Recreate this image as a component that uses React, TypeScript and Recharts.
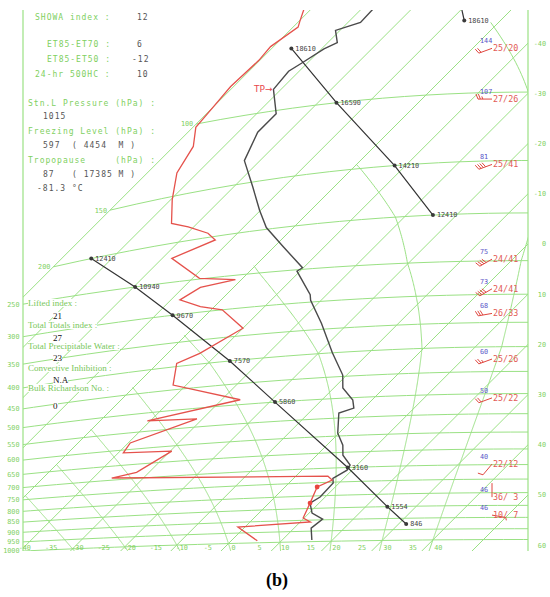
import React from 'react';
import { ComposedChart, Line, Scatter, XAxis, YAxis } from 'recharts';

// ---------------- sounding data ----------------
// temperature profile (hPa, degC)
const tempPressure = [992, 936, 897, 870, 828, 805, 753, 736, 709, 692, 659, 628, 592, 537, 526, 506, 476, 447, 400, 339, 297, 288, 252, 248, 221, 198, 178, 154, 131, 112, 102, 88, 80, 77, 72, 70, 65, 63, 58];
const tempValues = [15.9, 13.4, 13.9, 10.6, 8.2, 9.0, 8.8, 7.8, 9.0, 8.6, 5.2, 3.2, -0.2, -4.0, -2.0, -3.8, -8.2, -10.8, -17.3, -25.3, -32.1, -33.3, -40.6, -40.2, -48.2, -55.4, -60.2, -66.3, -73.1, -76.1, -76.1, -81.5, -82.1, -81.1, -79.5, -78.1, -80.9, -77.5, -77.7];
// dew point profile (hPa, degC)
const dewPressure = [990, 922, 908, 890, 828, 766, 742, 728, 692, 678, 616, 609, 580, 528, 521, 488, 439, 393, 377, 336, 300, 291, 277, 262, 256, 249, 218, 204, 195, 184, 177, 153, 131, 114, 102, 92, 83, 73, 68, 62, 60, 56];
const dewValues = [5.2, -1.4, 12.0, 9.8, 8.2, 6.4, 8.0, 6.4, -36.3, -32.5, -29.7, -39.0, -39.6, -31.1, -40.6, -26.3, -42.6, -46.2, -43.6, -40.0, -47.8, -52.8, -58.2, -56.6, -51.2, -58.6, -68.1, -63.1, -65.9, -71.1, -75.1, -79.7, -84.1, -86.1, -89.4, -90.0, -90.6, -90.2, -90.6, -89.0, -89.8, -91.4];
// marked dew point levels (hPa)
const dewMarkPressure = [828, 766];
const dewMarkValues = [8.2, 6.4];
const tropopauseIndex = 31;

// geopotential height trace (three wrapped segments)
const heightSeg1Pressure = [925, 850, 700, 500, 400, 300, 250, 200];
const heightSeg1Values = [846, 1554, 3160, 5860, 7570, 9670, 10940, 12410];
const heightSeg1Pos = [31.5, 24.3, 8.6, -18.9, -36.1, -56.6, -69.7, -84.1];
const heightSeg2Pressure = [200, 150, 100, 70];
const heightSeg2Values = [12410, 14210, 16590, 18610];
const heightSeg2Pos = [-24.7, -42.2, -66.3, -86.1];
const heightSeg3Pressure = [55, 65];
const heightSeg3Values = [null, 18610];
const heightSeg3Pos = [-64, -57.2];

// wind column
const windPressure = [77, 104, 153, 248, 291, 333, 424, 510, 698, 817, 890];
const windMax = ['144', '107', '81', '75', '73', '68', '60', '50', '40', '46', '46'];
const windText = ['25/20', '27/26', '25/41', '24/41', '24/41', '26/33', '25/26', '25/22', '22/12', '36/ 3', '10/ 7'];
const windDir = [250, 270, 250, 240, 240, 260, 250, 250, 220, 360, 100];
const windSpeed = [20, 26, 41, 41, 41, 33, 26, 22, 12, 3, 7];

// diagram grid
const isobarLevels = [1000, 950, 900, 850, 800, 750, 700, 650, 600, 550, 500, 450, 400, 350, 300, 250, 200, 150, 100];
const leftLabelLevels = [1000, 950, 900, 850, 800, 750, 700, 650, 600, 550, 500, 450, 400, 350, 300, 250];
const innerLabelLevels = [200, 150, 100];
const isothermValues = [-90, -80, -70, -60, -50, -40, -30, -20, -10, 0, 10, 20, 30, 40, 50];
const moistValues = [-40, -30, -20, -10, 0, 10, 20, 30, 40];
const bottomLabelTemps = [-40, -35, -30, -25, -20, -15, -10, -5, 0, 5, 10, 15, 20, 25, 30, 35, 40];
const rightLabelTemps = [-40, -30, -20, -10, 0, 10, 20, 30, 40, 50, 60];

// text panels
const indexLabels = ['SHOWA index :', 'ET85-ET70 :', 'ET85-ET50 :', '24-hr 500HC :'];
const indexValues = ['12', '6', '-12', '10'];
const stationLabels = ['Stn.L Pressure (hPa) :', 'Freezing Level (hPa) :', 'Tropopause     (hPa) :'];
const stationValues = ['1015', '597  ( 4454  M )', '87   ( 17385 M )', '-81.3 °C'];
const stabilityLabels = ['Lifted index :', 'Total Totals index :', 'Total Precipitable Water :', 'Convective Inhibition :', 'Bulk Richardson No. :'];
const stabilityValues = ['21', '27', '23', 'N.A', '0'];

// ---------------- styling / layout ----------------
const GRID = '#9ae184';
const GREEN_TXT = '#80d061';
const MONO = '"DejaVu Sans Mono", "Liberation Mono", monospace';
const SERIF = '"Liberation Serif", "DejaVu Serif", serif';
const LEFT = 23;
const RIGHT = 528;
const TOP = 10;
const BOTTOM = 551;
const WIND_X = 492;

// projection of the (curved, tilted) isobars: knots in ln(1000/p)
const projLnr = [0, 0.357, 0.693, 0.916, 1.204, 1.386, 1.609, 1.897, 2.303];
const projLeftY = [551, 487.5, 427.6, 387.9, 336.7, 304.2, 274, 233, 166];
const projRise = [23, 46, 68, 82.5, 85, 87, 122, 145, 148];

function interp(v: number, xs: number[], ys: number[]) {
  let i = 0;
  while (i < xs.length - 2 && v > xs[i + 1]) i++;
  const t = (v - xs[i]) / (xs[i + 1] - xs[i]);
  return ys[i] + t * (ys[i + 1] - ys[i]);
}
function isobarY(P: number, x: number) {
  const lnr = Math.log(1000 / P);
  const u = (x - LEFT) / (RIGHT - LEFT);
  return interp(lnr, projLnr, projLeftY) - interp(lnr, projLnr, projRise) * (u - (u * u) / 2);
}
function skewXY(T: number, P: number) {
  const c = 772 + 5.02 * T;
  let x = c - isobarY(P, 200);
  for (let i = 0; i < 12; i++) x = c - isobarY(P, x);
  return { x, y: isobarY(P, x) };
}

function moistLapse(Tk: number, p: number) {
  const Rd = 287.04, Cp = 1005.7, L = 2.501e6, eps = 0.622;
  const tc = Tk - 273.15;
  const es = 6.112 * Math.exp((17.67 * tc) / (tc + 243.5));
  const rs = (eps * es) / (p - es);
  return (Rd * Tk + L * rs) / (p * (Cp + (L * L * rs * eps) / (Rd * Tk * Tk)));
}
function pseudoAdiabat(thetaW: number) {
  const lower: { p: number; T: number }[] = [];
  let T = thetaW + 273.15;
  for (let p = 1000; p < 1120; p += 5) {
    const k1 = moistLapse(T, p);
    const k2 = moistLapse(T + k1 * 5, p + 5);
    T += ((k1 + k2) / 2) * 5;
    lower.push({ p: p + 5, T });
  }
  const upper = [{ p: 1000, T: thetaW + 273.15 }];
  T = thetaW + 273.15;
  for (let p = 1000; p > 40; p -= 2) {
    const k1 = moistLapse(T, p);
    const k2 = moistLapse(T - k1 * 2, p - 2);
    T -= ((k1 + k2) / 2) * 2;
    upper.push({ p: p - 2, T });
    if (T - 273.15 <= -50) break;
  }
  return [...lower.reverse(), ...upper];
}

// ---------------- derived tables ----------------
const isothermLines = isothermValues.map((T) => [skewXY(T, 1250), skewXY(T, 30)]);
const isobarLines = isobarLevels.map((P) => {
  const pts = [];
  for (let T = -90; T <= 80; T += 4) pts.push(skewXY(T, P));
  return pts;
});
const moistLines = moistValues.map((tw) => pseudoAdiabat(tw).map((s) => skewXY(s.T - 273.15, s.p)));

const tempLine = tempPressure.map((P, i) => skewXY(tempValues[i], P));
const dewLine = dewPressure.map((P, i) => skewXY(dewValues[i], P));
const dewMarks = dewMarkPressure.map((P, i) => skewXY(dewMarkValues[i], P));
const tpPoint = [{ ...skewXY(tempValues[tropopauseIndex], tempPressure[tropopauseIndex]) }];

const mkHeights = (ps: number[], hs: (number | null)[], pos: number[]) =>
  ps.map((P, i) => ({ ...skewXY(pos[i], P), label: hs[i] }));
const height1 = mkHeights(heightSeg1Pressure, heightSeg1Values, heightSeg1Pos);
const height2 = mkHeights(heightSeg2Pressure, heightSeg2Values, heightSeg2Pos);
const height3 = mkHeights(heightSeg3Pressure, heightSeg3Values, heightSeg3Pos);
const heightMarks = [...height1, ...height2, ...height3].filter((d) => d.label !== null);

const windRows = windPressure.map((P, i) => ({
  x: WIND_X,
  y: isobarY(P, WIND_X),
  max: windMax[i],
  text: windText[i],
  dir: windDir[i],
  spd: windSpeed[i],
}));

const innerLabels = innerLabelLevels.map((P) => ({ ...skewXY(-90, P), label: String(P) }));

const leftTicks = leftLabelLevels.map((P) => isobarY(P, LEFT));
const rightTicks = rightLabelTemps.map((T) => 772 + 5.02 * T - RIGHT);
const bottomTicks = bottomLabelTemps.map((T) => skewXY(T, 975).x);

const nearestLabel = (v: number, ticks: number[], labels: (number | string)[]) => {
  let best = 0;
  ticks.forEach((t, i) => {
    if (Math.abs(t - v) < Math.abs(ticks[best] - v)) best = i;
  });
  return String(labels[best]);
};

const LeftTick = (props: any) => (
  <text x={19.5} y={props.y} dy={2.4} textAnchor="end" fontSize={6.8} fontFamily={MONO} fill={GREEN_TXT}>
    {nearestLabel(props.payload.value, leftTicks, leftLabelLevels)}
  </text>
);
const RightTick = (props: any) => (
  <text x={546} y={props.y} dy={2.4} textAnchor="end" fontSize={6.8} fontFamily={MONO} fill={GREEN_TXT}>
    {nearestLabel(props.payload.value, rightTicks, rightLabelTemps)}
  </text>
);
const BottomTick = (props: any) => (
  <text x={props.x} y={548} dy={2.4} textAnchor="middle" fontSize={6.8} fontFamily={MONO} fill={GREEN_TXT}>
    {nearestLabel(props.payload.value, bottomTicks, bottomLabelTemps)}
  </text>
);

const HeightMark = (props: any) => {
  const { cx, cy, payload } = props;
  return (
    <g>
      <circle cx={cx} cy={cy} r={2} fill="#3a3a3a" />
      <text x={cx + 4} y={cy + 2.3} fontSize={6.8} fontFamily={MONO} fill="#444">
        {payload.label}
      </text>
    </g>
  );
};
const DewMark = (props: any) => <circle cx={props.cx} cy={props.cy} r={2.4} fill="#e8453f" />;
const InnerLabel = (props: any) => (
  <text x={props.cx - 3} y={props.cy + 2.4} textAnchor="end" fontSize={6.8} fontFamily={MONO} fill={GREEN_TXT}>
    {props.payload.label}
  </text>
);
const TpLabel = (props: any) => (
  <text x={props.cx - 1} y={props.cy + 3} textAnchor="end" fontSize={9} fontFamily='"DejaVu Sans", sans-serif' fill="#e8474a">
    TP→
  </text>
);

const WindBarb = (props: any) => {
  const { cx, cy, payload } = props;
  const d = (payload.dir * Math.PI) / 180;
  const vx = Math.sin(d);
  const vy = -Math.cos(d);
  const L = 14;
  const ex = cx + vx * L;
  const ey = cy + vy * L;
  const px = -vy;
  const py = vx;
  const feathers: any[] = [];
  const full = Math.floor(payload.spd / 10);
  const half = payload.spd % 10 >= 5 ? 1 : 0;
  let pos = 0;
  for (let i = 0; i < full; i++) {
    const bx = ex - vx * pos;
    const by = ey - vy * pos;
    feathers.push(<line key={'f' + i} x1={bx} y1={by} x2={bx + px * 5 + vx * 2} y2={by + py * 5 + vy * 2} />);
    pos += 2.4;
  }
  if (half) {
    const bx = ex - vx * pos;
    const by = ey - vy * pos;
    feathers.push(<line key="h" x1={bx} y1={by} x2={bx + px * 2.7 + vx * 1} y2={by + py * 2.7 + vy * 1} />);
  }
  return (
    <g>
      <g stroke="#e0463f" strokeWidth={1}>
        <line x1={cx} y1={cy} x2={ex} y2={ey} />
        {feathers}
      </g>
      <text x={cx - 12} y={cy - 5} fontSize={6.8} fontFamily={MONO} fill="#5a55c8">
        {payload.max}
      </text>
      <text x={cx + 1} y={cy + 3} fontSize={8.4} fontFamily={MONO} fill="#e25a55" style={{ whiteSpace: 'pre' }}>
        {payload.text}
      </text>
    </g>
  );
};

const lineProps = {
  type: 'linear' as const,
  dataKey: 'y',
  dot: false,
  activeDot: false,
  isAnimationActive: false,
  legendType: 'none' as const,
};

// text panel layout
const indexLabelX = [35, 47, 47, 35];
const indexRowY = [17.5, 45, 60, 75];
const indexValueX = [137, 137, 132, 137];
const stationLabelY = [104, 132, 161];
const stationValueX = [43, 43, 43, 37];
const stationValueY = [117, 146, 175, 189];
const stabilityLabelY = [303, 325, 346, 367.5, 388];
const stabilityValueY = [316, 337.5, 357.5, 379.5, 406];

const monoStyle = (x: number, y: number, color: string): React.CSSProperties => ({
  position: 'absolute',
  left: x,
  top: y - 5,
  height: 10,
  lineHeight: '10px',
  fontFamily: MONO,
  fontSize: 8,
  letterSpacing: 1,
  color,
  whiteSpace: 'pre',
});
const serifStyle = (x: number, y: number, color: string): React.CSSProperties => ({
  position: 'absolute',
  left: x,
  top: y - 4,
  height: 8,
  lineHeight: '8px',
  fontFamily: SERIF,
  fontSize: 9,
  color,
  background: '#fff',
  whiteSpace: 'pre',
});

export default function App() {
  return (
    <div style={{ position: 'absolute', left: 0, top: 0, width: 550, height: 597, background: '#fff', overflow: 'hidden' }}>
      <ComposedChart width={550} height={597} margin={{ top: TOP, right: 0, bottom: 0, left: 0 }}>
        <XAxis
          type="number"
          dataKey="x"
          domain={[LEFT, RIGHT]}
          allowDataOverflow
          ticks={bottomTicks}
          interval={0}
          tick={BottomTick}
          axisLine={false}
          tickLine={false}
          height={597 - BOTTOM}
        />
        <YAxis
          type="number"
          dataKey="y"
          domain={[TOP, BOTTOM]}
          reversed
          allowDataOverflow
          width={LEFT}
          ticks={leftTicks}
          interval={0}
          tick={LeftTick}
          axisLine={{ stroke: GRID, strokeWidth: 1.2 }}
          tickLine={false}
        />
        <YAxis
          yAxisId="right"
          orientation="right"
          type="number"
          domain={[TOP, BOTTOM]}
          reversed
          allowDataOverflow
          width={550 - RIGHT}
          ticks={rightTicks}
          interval={0}
          tick={RightTick}
          axisLine={{ stroke: GRID, strokeWidth: 1.2 }}
          tickLine={false}
        />
        {isothermLines.map((pts, i) => (
          <Line key={'it' + i} data={pts} stroke={GRID} strokeWidth={1} {...lineProps} />
        ))}
        {isobarLines.map((pts, i) => (
          <Line key={'ib' + i} data={pts} stroke={GRID} strokeWidth={1} {...lineProps} />
        ))}
        {moistLines.map((pts, i) => (
          <Line key={'ma' + i} data={pts} stroke={GRID} strokeWidth={1} {...lineProps} />
        ))}
        <Line data={height1} stroke="#333" strokeWidth={1.2} {...lineProps} />
        <Line data={height2} stroke="#333" strokeWidth={1.2} {...lineProps} />
        <Line data={height3} stroke="#333" strokeWidth={1.2} {...lineProps} />
        <Line data={tempLine} stroke="#4a4a4a" strokeWidth={1.4} {...lineProps} />
        <Line data={dewLine} stroke="#e5524c" strokeWidth={1.3} {...lineProps} />
        <Scatter data={dewMarks} shape={DewMark} isAnimationActive={false} />
        <Scatter data={heightMarks} shape={HeightMark} isAnimationActive={false} />
        <Scatter data={innerLabels} shape={InnerLabel} isAnimationActive={false} />
        <Scatter data={tpPoint} shape={TpLabel} isAnimationActive={false} />
        <Scatter data={windRows} shape={WindBarb} isAnimationActive={false} />
      </ComposedChart>

      {indexLabels.map((t, i) => (
        <div key={'il' + i} style={monoStyle(indexLabelX[i], indexRowY[i], GREEN_TXT)}>{t}</div>
      ))}
      {indexValues.map((t, i) => (
        <div key={'iv' + i} style={monoStyle(indexValueX[i], indexRowY[i], '#555')}>{t}</div>
      ))}
      {stationLabels.map((t, i) => (
        <div key={'sl' + i} style={monoStyle(28, stationLabelY[i], GREEN_TXT)}>{t}</div>
      ))}
      {stationValues.map((t, i) => (
        <div key={'sv' + i} style={monoStyle(stationValueX[i], stationValueY[i], '#555')}>{t}</div>
      ))}
      {stabilityLabels.map((t, i) => (
        <div key={'tl' + i} style={serifStyle(28, stabilityLabelY[i], '#78c75a')}>{t}</div>
      ))}
      {stabilityValues.map((t, i) => (
        <div key={'tv' + i} style={serifStyle(53, stabilityValueY[i], '#111')}>{t}</div>
      ))}
      <div
        style={{
          position: 'absolute',
          left: 0,
          width: 550,
          top: 570,
          textAlign: 'center',
          fontFamily: SERIF,
          fontWeight: 'bold',
          fontSize: 18,
          color: '#000',
        }}
      >
        <span style={{ position: 'relative', left: 2 }}>(b)</span>
      </div>
    </div>
  );
}
